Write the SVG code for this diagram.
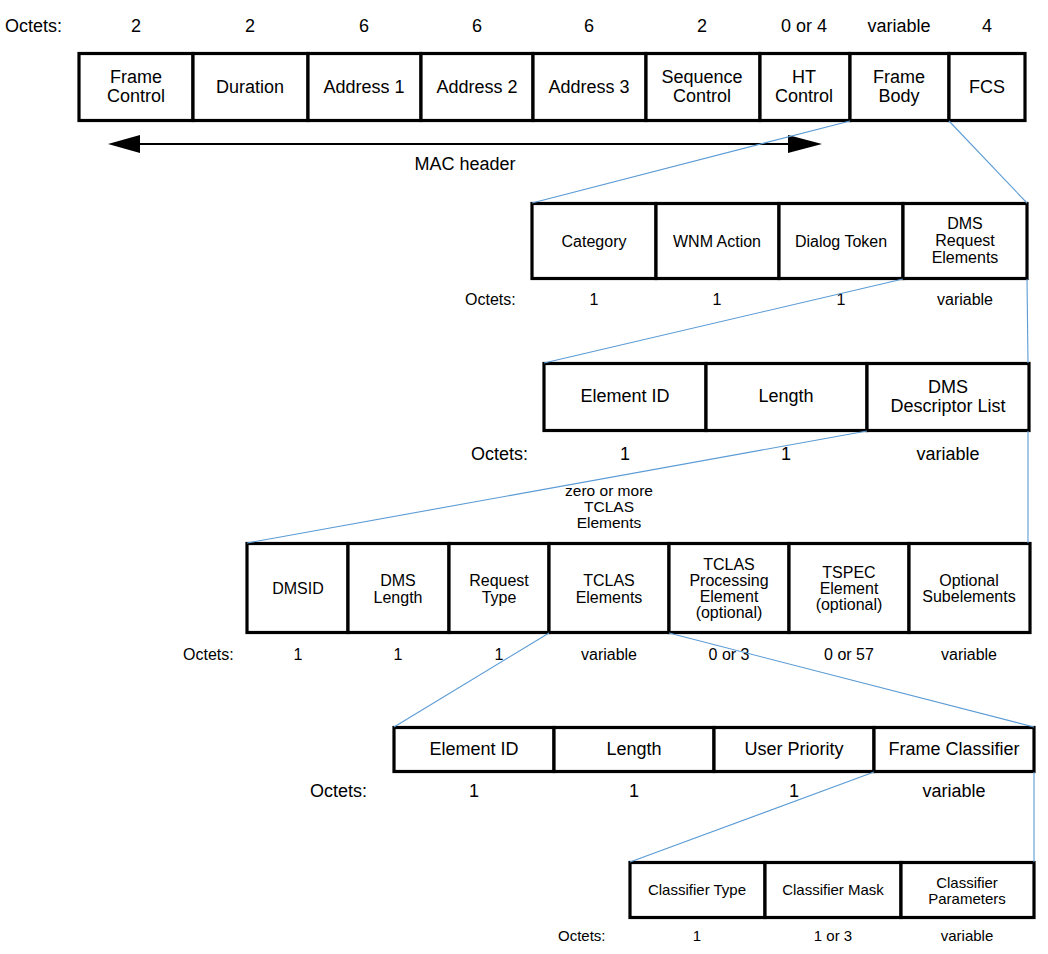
<svg xmlns="http://www.w3.org/2000/svg" width="1048" height="954" viewBox="0 0 1048 954">
<style>
text{font-family:"Liberation Sans",Arial,sans-serif;fill:#000;text-anchor:middle}
.c{fill:#fff;stroke:#000;stroke-width:3.2}
.f18{font-size:18px}
.f16{font-size:16px}
.f15{font-size:15px}
.lbl{text-anchor:start}
.bl{stroke:#5b9bd5;stroke-width:1.1;fill:none}
</style>
<rect width="1048" height="954" fill="#fff"/>

<!-- Table 1 -->
<g id="t1" class="f18">
<text class="lbl" x="5" y="32">Octets:</text>
<text x="136" y="32">2</text><text x="250" y="32">2</text><text x="364" y="32">6</text><text x="477" y="32">6</text><text x="589" y="32">6</text><text x="702" y="32">2</text><text x="804" y="32">0 or 4</text><text x="899" y="32">variable</text><text x="987" y="32">4</text>
<g id="frame-control"><rect class="c" x="79" y="53.5" width="114" height="67"/><text x="136" y="83">Frame</text><text x="136" y="102">Control</text></g>
<g id="duration"><rect class="c" x="193" y="53.5" width="115" height="67"/><text x="250" y="93">Duration</text></g>
<g id="address1"><rect class="c" x="308" y="53.5" width="113" height="67"/><text x="364" y="93">Address 1</text></g>
<g id="address2"><rect class="c" x="421" y="53.5" width="112" height="67"/><text x="477" y="93">Address 2</text></g>
<g id="address3"><rect class="c" x="533" y="53.5" width="113" height="67"/><text x="589" y="93">Address 3</text></g>
<g id="sequence-control"><rect class="c" x="646" y="53.5" width="114" height="67"/><text x="702" y="83">Sequence</text><text x="702" y="102">Control</text></g>
<g id="ht-control"><rect class="c" x="760" y="53.5" width="90" height="67"/><text x="804" y="83">HT</text><text x="804" y="102">Control</text></g>
<g id="frame-body"><rect class="c" x="850" y="53.5" width="99" height="67"/><text x="899" y="83">Frame</text><text x="899" y="102">Body</text></g>
<g id="fcs"><rect class="c" x="949" y="53.5" width="76" height="67"/><text x="987" y="93">FCS</text></g>
</g>

<g id="mac-header">
<line x1="138" y1="144" x2="790" y2="144" stroke="#000" stroke-width="2.2"/>
<polygon points="108,144 140,135 140,153" fill="#000"/>
<polygon points="822,144 788,135 788,153" fill="#000"/>
<text class="f18" x="465" y="170">MAC header</text>
</g>

<!-- Table 2 -->
<g id="t2" class="f16">
<g id="category"><rect class="c" x="532" y="203.5" width="124" height="75"/><text x="594" y="247">Category</text></g>
<g id="wnm-action"><rect class="c" x="656" y="203.5" width="123" height="75"/><text x="717" y="247">WNM Action</text></g>
<g id="dialog-token"><rect class="c" x="779" y="203.5" width="124" height="75"/><text x="841" y="247">Dialog Token</text></g>
<g id="dms-request-elements"><rect class="c" x="903" y="203.5" width="124" height="75"/><text x="965" y="229">DMS</text><text x="965" y="246">Request</text><text x="965" y="263">Elements</text></g>
<text class="lbl" x="465" y="305">Octets:</text>
<text x="594" y="305">1</text><text x="717" y="305">1</text><text x="841" y="305">1</text><text x="965" y="305">variable</text>
</g>

<!-- Table 3 -->
<g id="t3" class="f18">
<g id="element-id-1"><rect class="c" x="544" y="363.5" width="162" height="67"/><text x="625" y="402">Element ID</text></g>
<g id="length-1"><rect class="c" x="706" y="363.5" width="161" height="67"/><text x="786" y="402">Length</text></g>
<g id="dms-descriptor-list"><rect class="c" x="867" y="363.5" width="162" height="67"/><text x="948" y="393">DMS</text><text x="948" y="412">Descriptor List</text></g>
<text class="lbl" x="471" y="460">Octets:</text>
<text x="625" y="460">1</text><text x="786" y="460">1</text><text x="948" y="460">variable</text>
</g>
<g id="zero-or-more" style="font-size:15.5px"><text x="609" y="495.5">zero or more</text><text x="609" y="511.5">TCLAS</text><text x="609" y="527.5">Elements</text></g>

<!-- Table 4 -->
<g id="t4" class="f16">
<g id="dmsid"><rect class="c" x="247" y="543.5" width="101" height="89"/><text x="298" y="594">DMSID</text></g>
<g id="dms-length"><rect class="c" x="348" y="543.5" width="101" height="89"/><text x="398" y="586">DMS</text><text x="398" y="603">Length</text></g>
<g id="request-type"><rect class="c" x="449" y="543.5" width="100" height="89"/><text x="499" y="586">Request</text><text x="499" y="603">Type</text></g>
<g id="tclas-elements"><rect class="c" x="549" y="543.5" width="120" height="89"/><text x="609" y="586">TCLAS</text><text x="609" y="603">Elements</text></g>
<g id="tclas-processing"><rect class="c" x="669" y="543.5" width="120" height="89"/><text x="729" y="570">TCLAS</text><text x="729" y="586">Processing</text><text x="729" y="602">Element</text><text x="729" y="618">(optional)</text></g>
<g id="tspec-element"><rect class="c" x="789" y="543.5" width="120" height="89"/><text x="849" y="578">TSPEC</text><text x="849" y="594">Element</text><text x="849" y="610">(optional)</text></g>
<g id="optional-subelements"><rect class="c" x="909" y="543.5" width="121" height="89"/><text x="969" y="586">Optional</text><text x="969" y="602">Subelements</text></g>
<text class="lbl" x="183" y="660">Octets:</text>
<text x="298" y="660">1</text><text x="398" y="660">1</text><text x="499" y="660">1</text><text x="609" y="660">variable</text><text x="729" y="660">0 or 3</text><text x="849" y="660">0 or 57</text><text x="969" y="660">variable</text>
</g>

<!-- Table 5 -->
<g id="t5" class="f18">
<g id="element-id-2"><rect class="c" x="394" y="727.5" width="160" height="44"/><text x="474" y="755">Element ID</text></g>
<g id="length-2"><rect class="c" x="554" y="727.5" width="160" height="44"/><text x="634" y="755">Length</text></g>
<g id="user-priority"><rect class="c" x="714" y="727.5" width="160" height="44"/><text x="794" y="755">User Priority</text></g>
<g id="frame-classifier"><rect class="c" x="874" y="727.5" width="160" height="44"/><text x="954" y="755">Frame Classifier</text></g>
<text class="lbl" x="310" y="797">Octets:</text>
<text x="474" y="797">1</text><text x="634" y="797">1</text><text x="794" y="797">1</text><text x="954" y="797">variable</text>
</g>

<!-- Table 6 -->
<g id="t6" class="f15">
<g id="classifier-type"><rect class="c" x="630" y="862.5" width="135" height="55"/><text x="697" y="895">Classifier Type</text></g>
<g id="classifier-mask"><rect class="c" x="765" y="862.5" width="136" height="55"/><text x="833" y="895">Classifier Mask</text></g>
<g id="classifier-parameters"><rect class="c" x="901" y="862.5" width="133" height="55"/><text x="967" y="888">Classifier</text><text x="967" y="904">Parameters</text></g>
<text class="lbl" x="558" y="941">Octets:</text>
<text x="697" y="941">1</text><text x="833" y="941">1 or 3</text><text x="967" y="941">variable</text>
</g>

<!-- Connectors -->
<g id="connectors" class="bl">
<line x1="850" y1="121" x2="532" y2="203"/>
<line x1="949" y1="121" x2="1027" y2="203"/>
<line x1="903" y1="279" x2="544" y2="363"/>
<line x1="1027" y1="279" x2="1028" y2="363"/>
<line x1="867" y1="431" x2="247" y2="543"/>
<line x1="1028" y1="431" x2="1028" y2="543"/>
<line x1="549" y1="633" x2="394" y2="727"/>
<line x1="669" y1="633" x2="1034" y2="727"/>
<line x1="874" y1="772" x2="630" y2="862"/>
<line x1="1034" y1="772" x2="1034" y2="862"/>
</g>
</svg>
